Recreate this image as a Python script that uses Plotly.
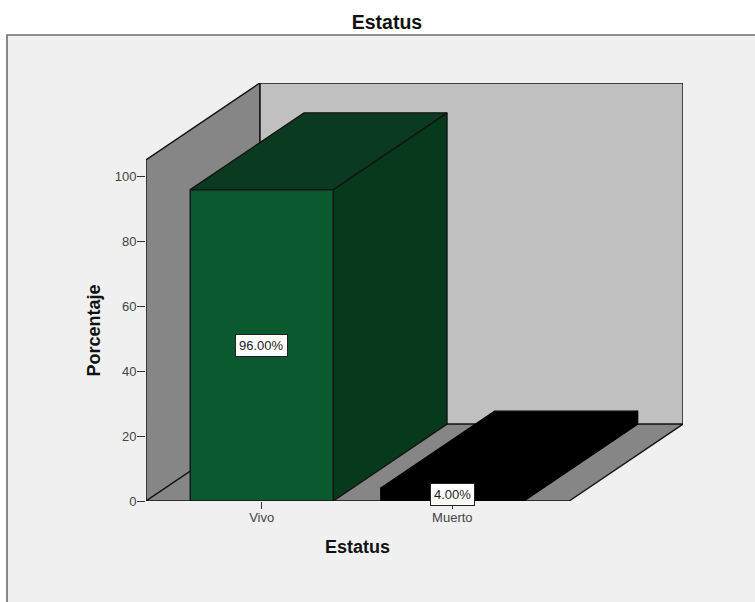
import plotly.graph_objects as go

# Values
categories = ["Vivo", "Muerto"]
percentages = [96.0, 4.0]
value_labels = ["96.00%", "4.00%"]
y_ticks = [0, 20, 40, 60, 80, 100]

# Pseudo-3D box geometry, in axis units
BAR_WIDTH = 0.75
X_LEFT, X_RIGHT = -0.607, 1.613
Y_WALL_TOP = 105.2
DEPTH_X, DEPTH_Y = 0.597, 23.7

LINE = "#141414"
FONT = "Liberation Sans, Arial, sans-serif"

fig = go.Figure()


def face(xs, ys, fill, line=LINE):
    fig.add_trace(go.Scatter(
        x=xs + xs[:1], y=ys + ys[:1], mode="lines", fill="toself",
        fillcolor=fill, line=dict(color=line, width=1.4),
        hoverinfo="skip", showlegend=False, cliponaxis=False,
    ))


# Back wall, side wall and floor of the chart box
face([X_LEFT + DEPTH_X, X_RIGHT + DEPTH_X, X_RIGHT + DEPTH_X, X_LEFT + DEPTH_X],
     [DEPTH_Y, DEPTH_Y, Y_WALL_TOP + DEPTH_Y, Y_WALL_TOP + DEPTH_Y], "#c0c0c0")
face([X_LEFT, X_LEFT + DEPTH_X, X_LEFT + DEPTH_X, X_LEFT],
     [0, DEPTH_Y, Y_WALL_TOP + DEPTH_Y, Y_WALL_TOP], "#868686")
face([X_LEFT, X_RIGHT, X_RIGHT + DEPTH_X, X_LEFT + DEPTH_X],
     [0, 0, DEPTH_Y, DEPTH_Y], "#868686")

# Bars: side, top and front faces
bar_colors = [
    ("#0b5a2f", "#073a1c", "#0a3a20", LINE),
    ("#000000", "#000000", "#000000", "#000000"),
]
for i, value in enumerate(percentages):
    x0, x1 = i - BAR_WIDTH / 2, i + BAR_WIDTH / 2
    front, side, top, edge = bar_colors[i]
    face([x1, x1 + DEPTH_X, x1 + DEPTH_X, x1],
         [0, DEPTH_Y, value + DEPTH_Y, value], side, edge)
    face([x0, x1, x1 + DEPTH_X, x0 + DEPTH_X],
         [value, value, value + DEPTH_Y, value + DEPTH_Y], top, edge)
    face([x0, x1, x1, x0], [0, 0, value, value], front, edge)

# Value labels sit halfway up each bar
annotations = [
    dict(x=i, y=value / 2, text=label, showarrow=False,
         font=dict(family=FONT, size=13, color="#222222"),
         bgcolor="white", bordercolor="#222222", borderwidth=1, borderpad=3)
    for i, (value, label) in enumerate(zip(percentages, value_labels))
]
# Axis titles are centred on the front plane of the box
annotations += [
    dict(x=(X_LEFT + X_RIGHT) / 2, y=0, yshift=-46, yanchor="middle",
         text="<b>Estatus</b>", showarrow=False,
         font=dict(family=FONT, size=18, color="#111111")),
    dict(x=X_LEFT, xshift=-52, y=Y_WALL_TOP / 2, text="<b>Porcentaje</b>",
         textangle=-90, showarrow=False,
         font=dict(family=FONT, size=18, color="#111111")),
]

fig.update_layout(
    width=755, height=602,
    margin=dict(l=146, r=72, t=83, b=101),
    paper_bgcolor="white", plot_bgcolor="rgba(0,0,0,0)",
    showlegend=False,
    title=dict(text="<b>Estatus</b>", x=387 / 755, xanchor="center",
               y=1 - 22 / 602, yanchor="middle",
               font=dict(family=FONT, size=19.5, color="#111111")),
    xaxis=dict(range=[X_LEFT, X_RIGHT + DEPTH_X], tickmode="array",
               tickvals=list(range(len(categories))), ticktext=categories,
               ticks="outside", ticklen=7, tickwidth=1.3, tickcolor="#333333",
               ticklabelstandoff=-3,
               tickfont=dict(family=FONT, size=13, color="#444444"),
               showgrid=False, zeroline=False, showline=False),
    yaxis=dict(range=[0, Y_WALL_TOP + DEPTH_Y], tickmode="array",
               tickvals=y_ticks, ticks="outside", ticklen=8, tickwidth=1.3,
               tickcolor="#333333", ticklabelstandoff=-2,
               tickfont=dict(family=FONT, size=13, color="#444444"),
               showgrid=False, zeroline=False, showline=False),
    annotations=annotations,
    # Panel behind the chart, running off the right and bottom of the page
    shapes=[dict(type="rect", xref="paper", yref="paper", layer="below",
                 x0=(7 - 146) / 537, x1=(775 - 146) / 537,
                 y0=-(620 - 501) / 418, y1=(501 - 35) / 418,
                 fillcolor="#f0f0f0", line=dict(color="#6e6e6e", width=1.6))],
)

fig.write_html("out.html")
